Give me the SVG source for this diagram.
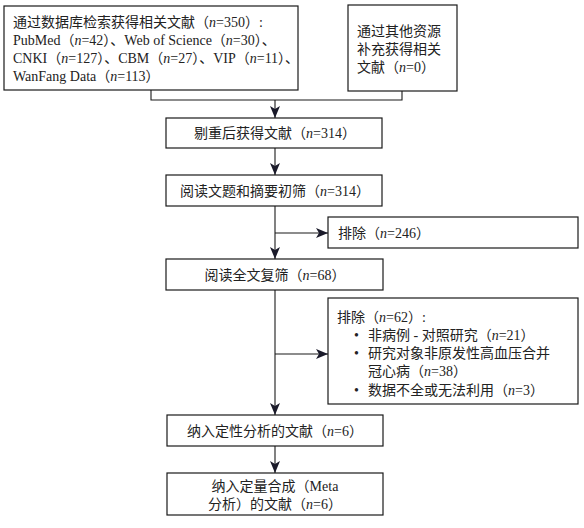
<svg xmlns="http://www.w3.org/2000/svg" width="584" height="528" viewBox="0 0 584 528">
<style>
.box{fill:#fff;stroke:#1a1a1a;stroke-width:1.2}
.t{font-family:"Liberation Serif","Noto Sans CJK SC",serif;font-size:14px;fill:#222}
.c{text-anchor:middle}
.i{font-style:italic}
.ln{fill:none;stroke:#1a1a1a;stroke-width:1.1}
</style>
<defs>
<marker id="ah" viewBox="0 0 12 10" refX="12" refY="5" markerWidth="12" markerHeight="10" markerUnits="userSpaceOnUse" orient="auto">
<path d="M0,0 L12,5 L0,10 L3,5 Z" fill="#1a1a2a"/>
</marker>
</defs>
<rect width="584" height="528" fill="#fff"/>
<g id="connectors">
<path class="ln" d="M151,90 V100 H402 V91"/>
<path class="ln" d="M275,100 V118" marker-end="url(#ah)"/>
<path class="ln" d="M275,148 V175" marker-end="url(#ah)"/>
<path class="ln" d="M275,206 V259" marker-end="url(#ah)"/>
<path class="ln" d="M275,233 H328" marker-end="url(#ah)"/>
<path class="ln" d="M275,290 V415" marker-end="url(#ah)"/>
<path class="ln" d="M275,354 H328" marker-end="url(#ah)"/>
<path class="ln" d="M275,446 V473" marker-end="url(#ah)"/>
</g>
<g id="n1">
<rect class="box" x="4" y="6" width="294" height="84"/>
<text class="t" x="13" y="27">通过数据库检索获得相关文献（<tspan class="i">n</tspan>=350）:</text>
<text class="t" x="13" y="45">PubMed（<tspan class="i">n</tspan>=42）、Web of Science（<tspan class="i">n</tspan>=30）、</text>
<text class="t" x="13" y="63">CNKI（<tspan class="i">n</tspan>=127）、CBM（<tspan class="i">n</tspan>=27）、VIP（<tspan class="i">n</tspan>=11）、</text>
<text class="t" x="13" y="81">WanFang Data（<tspan class="i">n</tspan>=113）</text>
</g>
<g id="n2">
<rect class="box" x="348" y="5" width="109" height="86"/>
<text class="t" x="357" y="36">通过其他资源</text>
<text class="t" x="357" y="54">补充获得相关</text>
<text class="t" x="357" y="72">文献（<tspan class="i">n</tspan>=0）</text>
</g>
<g id="n3">
<rect class="box" x="166" y="118" width="216" height="30"/>
<text class="t c" x="275" y="138">剔重后获得文献（<tspan class="i">n</tspan>=314）</text>
</g>
<g id="n4">
<rect class="box" x="166" y="175" width="216" height="31"/>
<text class="t c" x="275" y="196">阅读文题和摘要初筛（<tspan class="i">n</tspan>=314）</text>
</g>
<g id="n5">
<rect class="box" x="328" y="217" width="250" height="31"/>
<text class="t" x="338" y="238">排除（<tspan class="i">n</tspan>=246）</text>
</g>
<g id="n6">
<rect class="box" x="166" y="259" width="217" height="31"/>
<text class="t c" x="275" y="280">阅读全文复筛（<tspan class="i">n</tspan>=68）</text>
</g>
<g id="n7">
<rect class="box" x="328" y="298" width="250" height="106"/>
<text class="t" x="337" y="322">排除（<tspan class="i">n</tspan>=62）:</text>
<text class="t" x="354" y="340">•</text>
<text class="t" x="368" y="340">非病例 - 对照研究（<tspan class="i">n</tspan>=21）</text>
<text class="t" x="354" y="358">•</text>
<text class="t" x="368" y="358">研究对象非原发性高血压合并</text>
<text class="t" x="368" y="376">冠心病（<tspan class="i">n</tspan>=38）</text>
<text class="t" x="354" y="395">•</text>
<text class="t" x="368" y="395">数据不全或无法利用（<tspan class="i">n</tspan>=3）</text>
</g>
<g id="n8">
<rect class="box" x="167" y="415" width="216" height="31"/>
<text class="t c" x="275" y="436">纳入定性分析的文献（<tspan class="i">n</tspan>=6）</text>
</g>
<g id="n9">
<rect class="box" x="167" y="473" width="216" height="42"/>
<text class="t c" x="275" y="491">纳入定量合成（Meta</text>
<text class="t c" x="275" y="509">分析）的文献（<tspan class="i">n</tspan>=6）</text>
</g>
</svg>
